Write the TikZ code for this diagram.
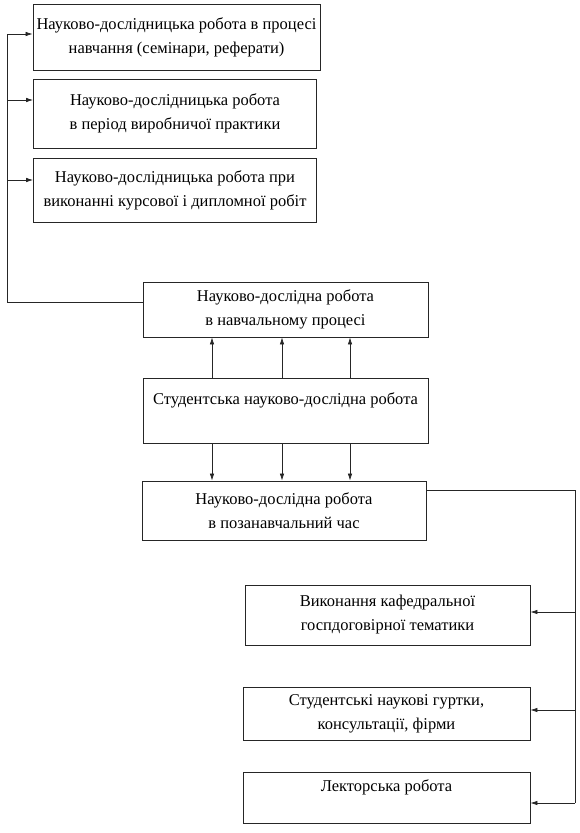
\documentclass[tikz,border=0pt]{standalone}
\usepackage{fontspec}
\setmainfont{Liberation Serif}
\usetikzlibrary{arrows.meta,calc}
\begin{document}
\begin{tikzpicture}[x=1pt,y=-1pt,
  box/.style={draw=black!85,line width=0.8pt,minimum width=#1,inner sep=2pt,align=center,font=\fontsize{16.5}{24}\selectfont},
  arr/.style={draw=black!85,line width=0.7pt,-{Latex[length=7pt,width=4.5pt]}},
  ln/.style={draw=black!85,line width=0.7pt}]
\useasboundingbox (0,0) rectangle (580,833);
\node[box=287pt,minimum height=66pt] (b1) at (176.5,37) {Науково-дослідницька робота в процесі\\навчання (семінари, реферати)};
\node[box=283pt,minimum height=69pt] (b2) at (175,113.5) {Науково-дослідницька робота\\в період виробничої практики};
\node[box=283pt,minimum height=64pt] (b3) at (175,190) {Науково-дослідницька робота при\\виконанні курсової і дипломної робіт};
\node[box=285pt,minimum height=55pt] (b4) at (285.5,309.5) {Науково-дослідна робота\\в навчальному процесі};
\node[box=285pt,minimum height=65pt] (b5) at (285.5,410.5) {Студентська науково-дослідна робота\\\mbox{}};
\node[box=284pt,minimum height=59pt] (b6) at (284,510.5) {Науково-дослідна робота\\в позанавчальний час};
\node[box=285pt,minimum height=60pt] (b7) at (387.5,615) {Виконання кафедральної\\госпдоговірної тематики};
\node[box=287pt,minimum height=53pt] (b8) at (386.5,713.5) {Студентські наукові гуртки,\\консультації, фірми};
\node[box=287pt,minimum height=51pt] (b9) at (386.5,797.5) {Лекторська робота\\\mbox{}};
% left connector
\coordinate (ltop) at (7,34);
\coordinate (lbot) at (7,302);
\draw[ln] (b4.west |- lbot) -- (lbot) -- (ltop);
\draw[arr] (ltop) -- (b1.west |- ltop);
\draw[arr] (7,100) coordinate (l2) -- (b2.west |- l2);
\draw[arr] (7,180) coordinate (l3) -- (b3.west |- l3);
% up and down arrows
\foreach \dx [count=\i] in {-73.5,-3.5,64.5}{
  \coordinate (u\i) at ([xshift=\dx pt]b5.north);
  \coordinate (d\i) at ([xshift=\dx pt]b5.south);
  \draw[arr] (u\i) -- (b4.south -| u\i);
  \draw[arr] (d\i) -- (b6.north -| d\i);
}
% right connector
\coordinate (rtop) at (575,490);
\coordinate (rbot) at (575,803);
\draw[ln] (b6.east |- rtop) -- (rtop) -- (rbot);
\draw[arr] (rbot) -- (b9.east |- rbot);
\draw[arr] (575,612) coordinate (r7) -- (b7.east |- r7);
\draw[arr] (575,710) coordinate (r8) -- (b8.east |- r8);
\end{tikzpicture}
\end{document}
